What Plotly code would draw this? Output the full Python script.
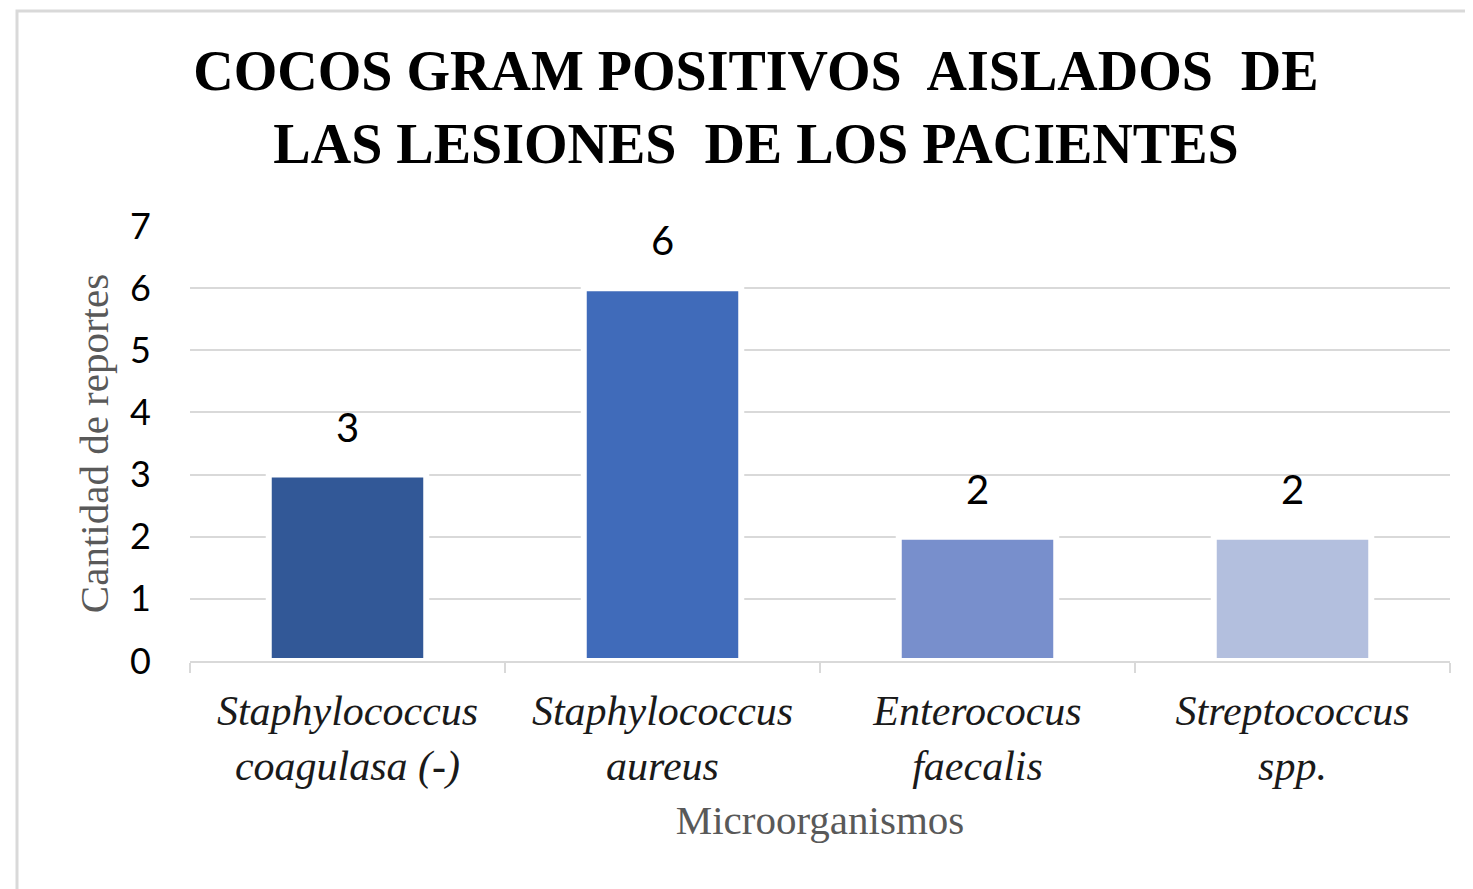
import plotly.graph_objects as go

categories = ["Staphylococcus<br>coagulasa (-)", "Staphylococcus<br>aureus",
              "Enterococus<br>faecalis", "Streptococcus<br>spp."]
values = [3, 6, 2, 2]
bar_colors = ["#325897", "#406BBA", "#788FCC", "#B3BFDE"]
y_ticks = [0, 1, 2, 3, 4, 5, 6, 7]

title_text = "COCOS GRAM POSITIVOS  AISLADOS  DE<br>LAS LESIONES  DE LOS PACIENTES"
x_title = "Microorganismos"
y_title = "Cantidad de reportes"

# page body has an 8px default margin; size the figure to fit the window
W, H = 1465, 881
L, R, T, B = 182, 23, 218, 228
pw, ph = W - L - R, H - T - B

fig = go.Figure()
fig.add_trace(go.Bar(
    x=categories, y=values,
    marker=dict(color=bar_colors, line=dict(color="white", width=6)),
    width=0.5,
    hoverinfo="skip",
))

for c, v in zip(categories, values):
    fig.add_annotation(x=c, y=v, text=str(v), showarrow=False,
                       yanchor="bottom", yshift=22,
                       font=dict(family="Lato", size=40, color="#000000"))

grey = "#D9D9D9"
fig.update_layout(
    width=W, height=H,
    margin=dict(l=L, r=R, t=T, b=B, pad=0),
    paper_bgcolor="white", plot_bgcolor="white",
    showlegend=False,
    bargap=0.5,
    title=dict(text=title_text, x=748 / W, xanchor="center",
               xref="container", yref="container", y=1 - 82 / H, yanchor="top",
               font=dict(family="Liberation Serif", size=56, color="#000000",
                         weight="bold")),
    xaxis=dict(
        type="category",
        tickson="boundaries",
        ticks="outside", ticklen=10, tickwidth=2, tickcolor=grey,
        showline=True, linecolor=grey, linewidth=2,
        showgrid=False, zeroline=False,
        ticklabelstandoff=12,
        tickfont=dict(family="Liberation Serif", size=42, color="#1a1a1a",
                      style="italic"),
        title=dict(text=x_title, standoff=16,
                   font=dict(family="Liberation Serif", size=41, color="#595959")),
    ),
    yaxis=dict(
        range=[0, 7], tickvals=y_ticks,
        showgrid=True, gridcolor=grey, gridwidth=2,
        zeroline=False, showline=False, ticks="",
        ticklabelstandoff=38,
        tickfont=dict(family="Lato", size=36, color="#000000"),
        title=dict(text=y_title, standoff=8,
                   font=dict(family="Liberation Serif", size=41, color="#595959")),
    ),
)

fig.add_shape(type="rect", xref="paper", yref="paper",
              x0=(9 - L) / pw, x1=1.2, y0=-1.0, y1=(H - B - 3) / ph,
              line=dict(color=grey, width=3), fillcolor="rgba(0,0,0,0)",
              layer="below")

fig.write_html("out.html")
